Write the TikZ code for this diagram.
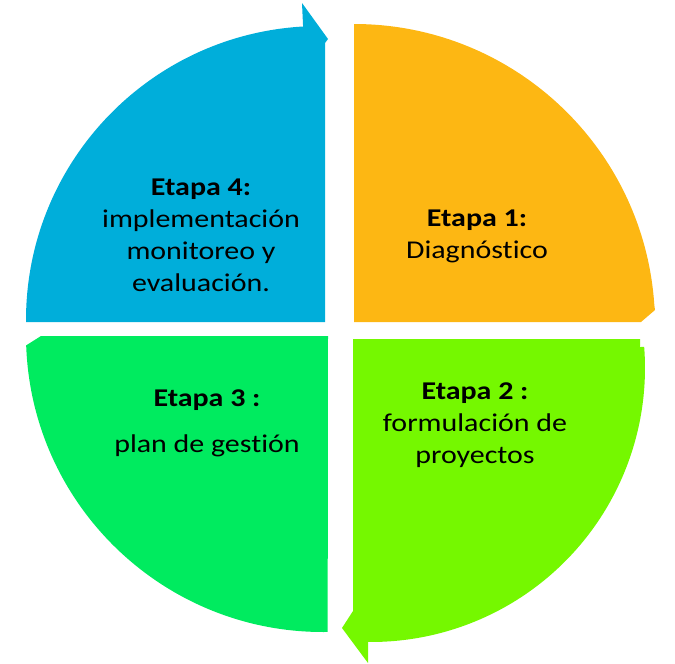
\documentclass[tikz,border=0pt]{standalone}
\usepackage{fontspec}
\setmainfont[FakeStretch=1.17,Ligatures=NoCommon]{Carlito}
\definecolor{cblue}{RGB}{0,174,218}
\definecolor{corange}{RGB}{253,183,19}
\definecolor{clime}{RGB}{117,248,0}
\definecolor{cgreen}{RGB}{0,235,95}
\begin{document}
\begin{tikzpicture}[x=0.75pt,y=-0.75pt,
  lbl/.style={align=center,font=\fontsize{19.2}{23.8}\selectfont,text=black,inner sep=0pt,anchor=base}]
\useasboundingbox (0,0) rectangle (675,664);
% Etapa 4 (blue), arrow head at top pointing right
\fill[cblue] ([shift={(320,320)}]179.6:294) arc[start angle=179.6,end angle=266.7,radius=294]
  -- (302,3) -- (328,39) -- (325,43) -- (325,322) -- (26,322) -- cycle;
% Etapa 1 (orange)
\fill[corange] (354,322) -- ([shift={(354,325)}]270:301) arc[start angle=270,end angle=356.2,radius=301]
  -- (655,310) -- (641,322) -- cycle;
% Etapa 2 (lime), arrow head at bottom pointing left
\fill[clime] (353,339) -- (640,339) -- (640,347) -- ([shift={(371,368)}]-4.4:274)
  arc[start angle=-4.4,end angle=90.6,radius=274]
  -- (368,663) -- (342,628) -- (353,611) -- cycle;
% Etapa 3 (green)
\fill[cgreen] (328,336) -- (41,336) -- ([shift={(323,335)}]178:297)
  arc[start angle=178,end angle=89.1,radius=297] -- cycle;
% labels
\node[lbl] (s4) at (201,291) {\textbf{Etapa 4:}\\implementación\\monitoreo y\\evaluación.};
\node[lbl] (s1) at (477,258) {\textbf{Etapa 1:}\\Diagnóstico};
\node[lbl] (s2) at (475,463) {\textbf{Etapa 2 :}\\formulación de\\proyectos};
\node[lbl] (s3) at (207,452) {\textbf{Etapa 3 :}\\[10pt]plan de gestión};
\end{tikzpicture}
\end{document}
